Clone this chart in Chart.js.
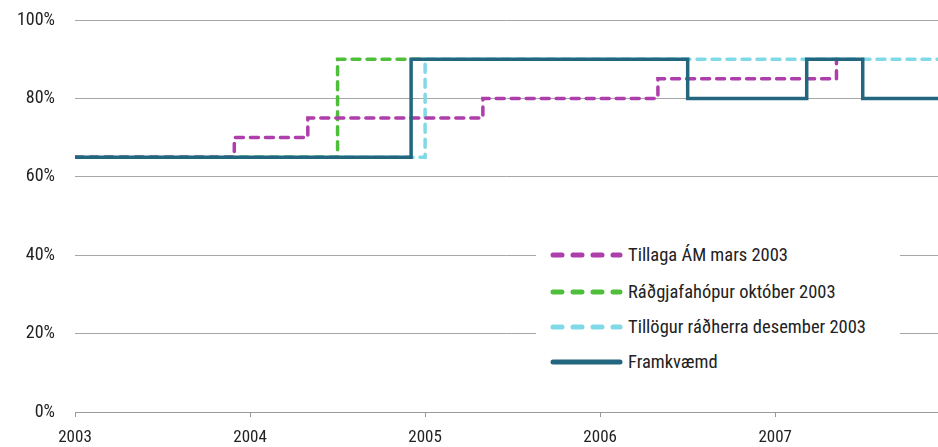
<!DOCTYPE html>
<html>
<head>
<meta charset="utf-8">
<script src="https://cdn.jsdelivr.net/npm/chart.js@4"></script>
<style>
  body { margin: 0; background: #fff; }
  #wrap { position: relative; width: 938px; height: 447px; }
  #legend {
    position: absolute; left: 536px; top: 236px; width: 364px; height: 142px;
    background: #fff; font-family: 'Liberation Sans Narrow', 'Roboto Condensed', Roboto, sans-serif;
    font-size: 18.5px; color: #222;
  }
  .item { position: absolute; left: 14px; height: 24px; display: flex; align-items: center; }
  .item svg { margin-right: 4px; }
</style>
</head>
<body>
<div id="wrap">
  <canvas id="chart"></canvas>
  <div id="legend"></div>
</div>
<script>
// tick labels
const yearTicks = [2003, 2004, 2005, 2006, 2007];
const percentTicks = [0, 20, 40, 60, 80, 100];

// series names
const seriesNames = ['Tillaga ÁM mars 2003', 'Ráðgjafahópur október 2003', 'Tillögur ráðherra desember 2003', 'Framkvæmd'];

// step points: x = year (decimal), y = percent; each value holds until the next x
const tillagaX = [2003, 2003.91, 2004.33, 2005.33, 2006.33, 2007.35];
const tillagaY = [65, 70, 75, 80, 85, 90];

const radgjafX = [2003, 2004.5, 2004.98];
const radgjafY = [65, 90, 90];

const radherraX = [2003, 2005.0, 2007.93];
const radherraY = [65, 90, 90];

const framkvX = [2003, 2004.92, 2006.5, 2007.18, 2007.5, 2007.93];
const framkvY = [65, 90, 80, 90, 80, 80];

const colors = ['#ae3eab', '#4fbe3a', '#80d9e6', '#22667f'];
const fontStack = "'Liberation Sans Narrow', 'Roboto Condensed', Roboto, sans-serif";

function points(xs, ys) {
    return xs.map((x, i) => ({ x: x, y: ys[i] }));
}

const seriesX = [tillagaX, radgjafX, radherraX, framkvX];
const seriesY = [tillagaY, radgjafY, radherraY, framkvY];

const datasets = seriesNames.map((name, i) => {
    const solid = i === 3;
    return {
        label: name,
        data: points(seriesX[i], seriesY[i]),
        borderColor: colors[i],
        borderWidth: 3.5,
        borderDash: solid ? [] : [8, 7],
        borderCapStyle: solid ? 'butt' : 'round',
        borderJoinStyle: 'miter',
        stepped: true,
        pointRadius: 0,
        fill: false,
        order: solid ? 0 : 1 + i
    };
});

new Chart(document.getElementById('chart').getContext('2d'), {
    type: 'line',
    data: { datasets: datasets },
    options: {
        responsive: true,
        maintainAspectRatio: false,
        animation: false,
        layout: { padding: { top: 20, right: 0, left: 0, bottom: 0 } },
        plugins: {
            legend: { display: false },
            tooltip: { enabled: false }
        },
        scales: {
            x: {
                type: 'linear',
                min: 2003,
                max: 2007.93,
                afterBuildTicks: (scale) => { scale.ticks = yearTicks.map(v => ({ value: v })); },
                afterFit: (scale) => { scale.height = 35; },
                grid: { drawOnChartArea: false, drawTicks: true, tickLength: 5, tickColor: '#999' },
                border: { display: true, color: '#999', width: 1 },
                ticks: {
                    padding: 11,
                    color: '#222',
                    maxRotation: 0,
                    autoSkip: false,
                    font: { family: fontStack, size: 17 },
                    callback: (v) => String(v)
                }
            },
            y: {
                min: 0,
                max: 100,
                afterBuildTicks: (scale) => { scale.ticks = percentTicks.map(v => ({ value: v })); },
                afterFit: (scale) => { scale.width = 75; },
                grid: { color: '#a6a6a6', lineWidth: 1, drawTicks: true, tickLength: 20, tickColor: 'rgba(0,0,0,0)' },
                border: { display: false },
                ticks: {
                    padding: 0,
                    color: '#222',
                    font: { family: fontStack, size: 18 },
                    callback: (v) => v + '%'
                }
            }
        }
    }
});

// legend built from the same series
const legend = document.getElementById('legend');
const rowTops = [7, 44, 79, 114];
seriesNames.forEach((name, i) => {
    const solid = i === 3;
    const item = document.createElement('div');
    item.className = 'item';
    item.style.top = rowTops[i] + 'px';
    const dash = solid ? '' : 'stroke-dasharray="9 11"';
    item.innerHTML = `<svg width="74" height="10"><line x1="3" y1="5" x2="70" y2="5" stroke="${colors[i]}" stroke-width="5" stroke-linecap="round" ${dash}/></svg><span>${name}</span>`;
    legend.appendChild(item);
});
</script>
</body>
</html>
